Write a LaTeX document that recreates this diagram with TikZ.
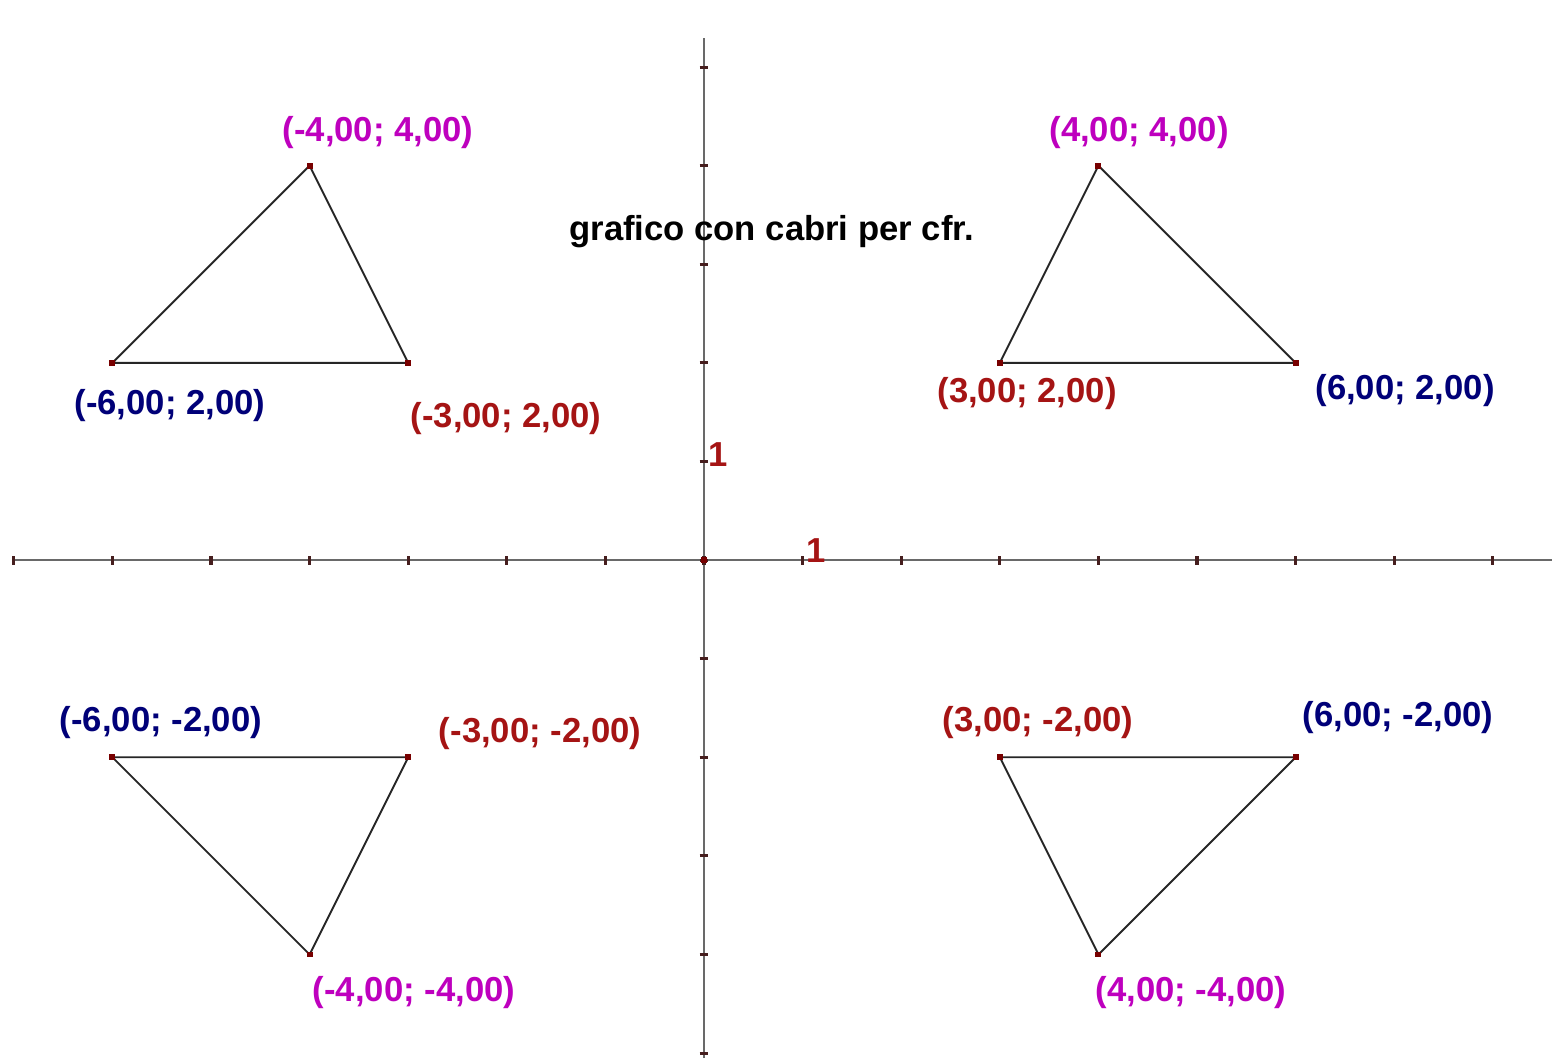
\documentclass[tikz,border=0pt]{standalone}
\usepackage{fontspec}
\setmainfont{Liberation Sans}
\definecolor{magC}{RGB}{190,0,190}
\definecolor{navyC}{RGB}{0,0,120}
\definecolor{redC}{RGB}{165,20,20}
\definecolor{axisC}{RGB}{105,105,105}
\definecolor{tickC}{RGB}{70,30,30}
\definecolor{ptC}{RGB}{120,0,0}
\begin{document}
\begin{tikzpicture}[x=1cm,y=1cm,
  axisline/.style={draw=axisC,line width=0.7pt},
  tickmark/.style={draw=tickC,line width=0.9pt},
  triline/.style={draw=black!85,line width=0.55pt},
  ptmark/.style={draw=none,fill=ptC,minimum size=0.06cm,inner sep=0pt,rectangle},
  lab/.style={font=\fontsize{10}{12}\selectfont\bfseries,inner sep=0pt},
  labm/.style={lab,text=magC},
  labn/.style={lab,text=navyC},
  labr/.style={lab,text=redC}]
\useasboundingbox[fill=white] (-7.140,-5.051) rectangle (8.600,5.680);
% axes
\coordinate (xl) at (-7.018,0);
\coordinate (xr) at (8.600,0);
\coordinate (yt) at (0,5.294);
\coordinate (yb) at (0,-5.051);
\draw[axisline] (xl) -- (xr);
\draw[axisline] (yb) -- (yt);
\foreach \i in {-7,...,8} \draw[tickmark] (\i,-0.045) -- (\i,0.045);
\foreach \j in {-5,...,5} \draw[tickmark] (-0.045,\j) -- (0.045,\j);
\node[ptmark] (O) at (0,0) {};
\node[labr,anchor=west] (one_y) at (0.035,1.07) {1};
\node[labr,anchor=base west] (one_x) at (1.03,-0.02) {1};
% title
\node[font=\fontsize{10}{12}\selectfont\bfseries,text=black,inner sep=0pt] (title) at (0.685,3.327) {grafico con cabri per cfr.};
% vertices
\coordinate (A1) at (-6,2); \coordinate (B1) at (-3,2); \coordinate (C1) at (-4,4);
\coordinate (A2) at (3,2);  \coordinate (B2) at (6,2);  \coordinate (C2) at (4,4);
\coordinate (A3) at (-6,-2);\coordinate (B3) at (-3,-2);\coordinate (C3) at (-4,-4);
\coordinate (A4) at (3,-2); \coordinate (B4) at (6,-2); \coordinate (C4) at (4,-4);
\draw[triline] (A1) -- (B1) -- (C1) -- cycle;
\draw[triline] (A2) -- (B2) -- (C2) -- cycle;
\draw[triline] (A3) -- (B3) -- (C3) -- cycle;
\draw[triline] (A4) -- (B4) -- (C4) -- cycle;
\foreach \p in {A1,B1,C1,A2,B2,C2,A3,B3,C3,A4,B4,C4} \node[ptmark] at (\p) {};
% labels
\node[labm] (lC1) at (-3.306,4.341) {(-4,00; 4,00)};
\node[labn] (lA1) at (-5.416,1.572) {(-6,00; 2,00)};
\node[labr] (lB1) at (-2.008,1.440) {(-3,00; 2,00)};
\node[labm] (lC2) at (4.412,4.341) {(4,00; 4,00)};
\node[labr] (lA2) at (3.276,1.694) {(3,00; 2,00)};
\node[labn] (lB2) at (7.110,1.724) {(6,00; 2,00)};
\node[labn] (lA3) at (-5.507,-1.643) {(-6,00; -2,00)};
\node[labr] (lB3) at (-1.663,-1.755) {(-3,00; -2,00)};
\node[labr] (lA4) at (3.387,-1.643) {(3,00; -2,00)};
\node[labn] (lB4) at (7.039,-1.592) {(6,00; -2,00)};
\node[labm] (lC3) at (-2.941,-4.381) {(-4,00; -4,00)};
\node[labm] (lC4) at (4.939,-4.381) {(4,00; -4,00)};
\end{tikzpicture}
\end{document}
